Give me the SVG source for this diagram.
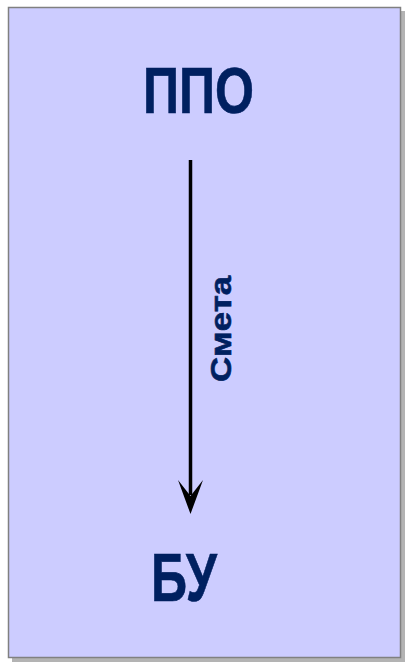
<svg xmlns="http://www.w3.org/2000/svg" width="406" height="666" viewBox="0 0 406 666">
<style>
.lbl{font-family:"Liberation Sans",Arial,sans-serif;font-weight:bold;fill:#002060;stroke:#002060;stroke-width:0.6}
</style>
<rect x="12" y="11" width="393" height="651" fill="#b3b3b3"/>
<rect x="8.5" y="7.5" width="392" height="650" fill="#ccccff" stroke="#808080" stroke-width="1.5"/>
<g id="node-ppo"><text class="lbl" x="198.5" y="113" font-size="64" text-anchor="middle" textLength="111" lengthAdjust="spacingAndGlyphs">ППО</text></g>
<g id="node-bu"><text class="lbl" x="184" y="601" font-size="68" text-anchor="middle" textLength="66" lengthAdjust="spacingAndGlyphs">БУ</text></g>
<g id="connectors">
<line x1="190.5" y1="160" x2="190.5" y2="495" stroke="#000" stroke-width="3.5"/>
<path d="M190.5 514 L178 480 L190.5 496 L203 480 Z" fill="#000"/>
<text class="lbl" transform="translate(231 329) rotate(-90)" font-size="30" text-anchor="middle" textLength="106" lengthAdjust="spacingAndGlyphs">Смета</text>
</g>
</svg>
